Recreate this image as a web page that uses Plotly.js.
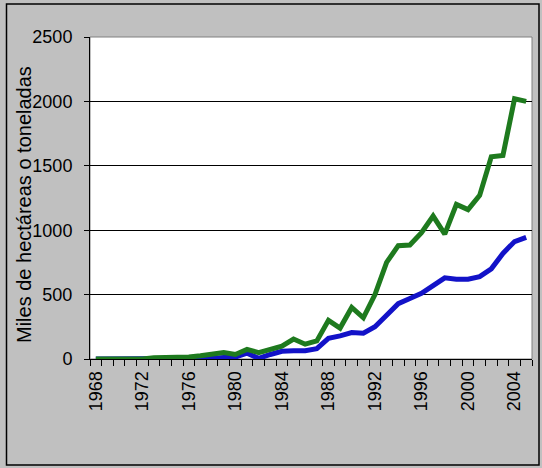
<!DOCTYPE html>
<html>
<head>
<meta charset="utf-8">
<script src="https://cdn.plot.ly/plotly-3.0.1.min.js"></script>
<style>html,body{margin:0;padding:0;background:#c0c0c0;}#chart{width:542px;height:468px;}</style>
</head>
<body>
<div id="chart"></div>
<script>
const years = [1968,1969,1970,1971,1972,1973,1974,1975,1976,1977,1978,1979,1980,1981,1982,1983,1984,1985,1986,1987,1988,1989,1990,1991,1992,1993,1994,1995,1996,1997,1998,1999,2000,2001,2002,2003,2004,2005];
const greenSeries = [0,0,0,0,0,10,10,12,15,25,40,50,35,75,50,80,100,155,115,140,300,240,400,320,500,750,880,885,980,1110,970,1200,1160,1270,1570,1580,2020,2000];
const blueSeries = [0,0,0,0,0,0,0,0,0,2,5,12,15,45,5,35,60,65,65,80,160,180,205,200,250,340,430,470,510,570,630,620,620,640,700,820,912,945];
const yTitle = "Miles de hectáreas o toneladas";

const fam = "Liberation Sans, Arial, sans-serif";
const font = {family: fam, size: 18, color: "#000"};
const traces = [
  {x: years, y: blueSeries, type: "scatter", mode: "lines", line: {color: "#1212c8", width: 5}, hoverinfo: "skip"},
  {x: years, y: greenSeries, type: "scatter", mode: "lines", line: {color: "#1e7a1e", width: 5}, hoverinfo: "skip"}
];
const W = 542, H = 468, L = 90, R = 10, T = 37, B = 109;
const pw = W - L - R, ph = H - T - B;
const layout = {
  width: W, height: H,
  margin: {l: L, r: R, t: T, b: B},
  paper_bgcolor: "#c0c0c0",
  plot_bgcolor: "#ffffff",
  showlegend: false,
  font: font,
  xaxis: {
    range: [1967.5, 2005.5], tick0: 1968, dtick: 4, tickangle: -90,
    ticks: "", ticklabelstandoff: 4,
    minor: {dtick: 1, tick0: 1967.5, ticks: "outside", ticklen: 6, tickcolor: "#000", tickwidth: 1, showgrid: false},
    showline: true, linecolor: "#000", linewidth: 1,
    showgrid: false, zeroline: false, tickfont: font, fixedrange: true
  },
  yaxis: {
    range: [0, 2500], dtick: 500, ticks: "outside", ticklen: 5, tickcolor: "#000",
    ticklabelstandoff: 8,
    showline: true, linecolor: "#000", linewidth: 1,
    showgrid: true, gridcolor: "#000", gridwidth: 1, zeroline: false,
    tickfont: font, fixedrange: true
  },
  annotations: [
    {text: yTitle, xref: "paper", yref: "paper", x: (24 - L) / pw, y: (T + ph - 205) / ph,
     xanchor: "center", yanchor: "middle", textangle: -90, showarrow: false,
     font: {family: fam, size: 20, color: "#000"}}
  ],
  shapes: [
    {type: "rect", xref: "paper", yref: "paper", x0: 0, x1: 1, y0: 0, y1: 1, line: {color: "#808080", width: 1}, layer: "below"},
    {type: "rect", xref: "paper", yref: "paper",
     x0: (6.5 - L) / pw, x1: (539 - L) / pw, y0: (T + ph - 465) / ph, y1: (T + ph - 4) / ph,
     line: {color: "#000", width: 1.5}, fillcolor: "rgba(0,0,0,0)"}
  ]
};
Plotly.newPlot("chart", traces, layout, {displayModeBar: false, staticPlot: true});
</script>
</body>
</html>
